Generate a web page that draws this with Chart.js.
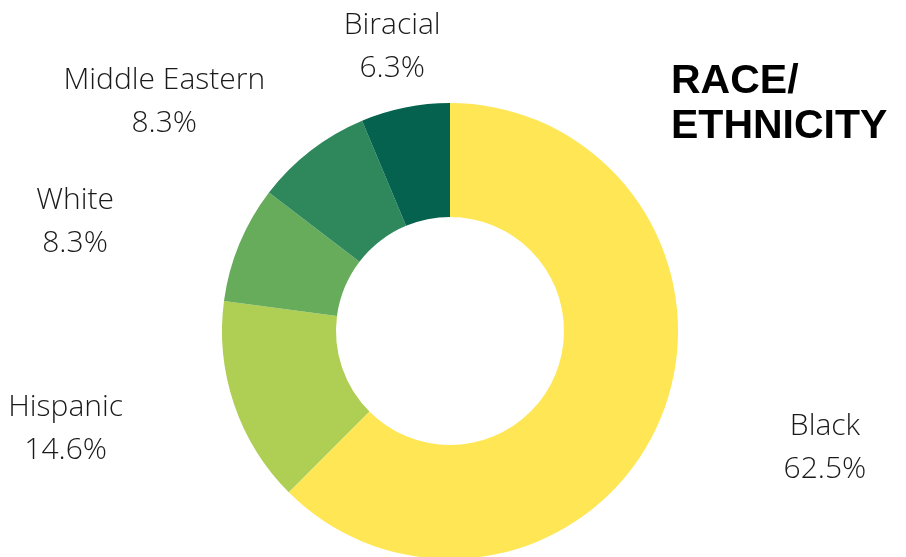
<!DOCTYPE html>
<html lang="en">
<head>
<meta charset="UTF-8">
<title>Race/Ethnicity</title>
<script src="https://cdn.jsdelivr.net/npm/chart.js"></script>
<style>
    html, body {
        margin: 0;
        padding: 0;
        background: #ffffff;
        overflow: hidden;
    }
    .wrap {
        position: relative;
        width: 906px;
        height: 557px;
        overflow: hidden;
    }
    #raceChart {
        position: absolute;
        left: 0;
        top: 0;
    }
    .title {
        position: absolute;
        left: 671px;
        top: 57px;
        font-family: 'Liberation Sans', Arial, sans-serif;
        font-weight: bold;
        font-size: 41px;
        line-height: 45px;
        color: #000;
    }
</style>
</head>
<body>
<div class="wrap">
    <canvas id="raceChart" width="906" height="562"></canvas>
    <div class="title">RACE/<br>ETHNICITY</div>
</div>

<script>
    const categories = ["Black", "Hispanic", "White", "Middle Eastern", "Biracial"];
    const percents = [62.5, 14.6, 8.3, 8.3, 6.3];
    const sliceColors = ["#FEE654", "#AECE54", "#66AC5B", "#2F885C", "#04624F"];

    // labels sit on an ellipse around the ring, at each slice's middle angle
    const outerLabels = {
        id: 'outerLabels',
        afterDatasetsDraw(chart, args, opts) {
            const ctx = chart.ctx;
            const meta = chart.getDatasetMeta(0);
            ctx.save();
            ctx.font = '300 30px "Open Sans", sans-serif';
            ctx.fillStyle = '#1a1a1a';
            ctx.textAlign = 'center';
            ctx.textBaseline = 'middle';
            meta.data.forEach((arc, i) => {
                const p = arc.getProps(['x', 'y', 'startAngle', 'endAngle', 'outerRadius'], true);
                const mid = (p.startAngle + p.endAngle) / 2;
                const x = p.x + Math.cos(mid) * p.outerRadius * opts.rx + (opts.nudgeX[i] || 0);
                const y = p.y + Math.sin(mid) * p.outerRadius * opts.ry + opts.shiftY;
                ctx.fillText(categories[i], x, y - opts.lineGap / 2);
                ctx.fillText(percents[i].toFixed(1) + '%', x, y + opts.lineGap / 2);
            });
            ctx.restore();
        }
    };

    new Chart(document.getElementById('raceChart').getContext('2d'), {
        type: 'doughnut',
        data: {
            labels: categories,
            datasets: [{
                data: percents,
                backgroundColor: sliceColors,
                borderWidth: 0
            }]
        },
        options: {
            responsive: false,
            animation: false,
            cutout: '50%',
            layout: {
                padding: { top: 103, bottom: 3, left: 222, right: 228 }
            },
            plugins: {
                legend: { display: false },
                tooltip: { enabled: false },
                outerLabels: { rx: 1.78, ry: 1.29, lineGap: 43, shiftY: 4, nudgeX: [0, 0, 0, -38, 22] }
            }
        },
        plugins: [outerLabels]
    });
</script>
</body>
</html>
